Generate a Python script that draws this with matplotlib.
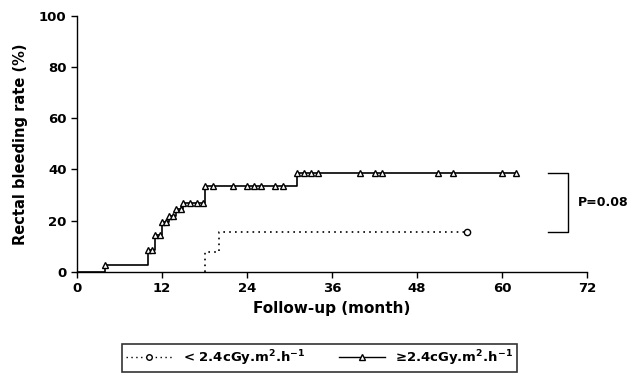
import matplotlib
matplotlib.use("Agg")
import matplotlib.pyplot as plt
import numpy as np

# High dose-rate group (>= 2.4 cGy.m2.h-1)
high_step_t = [0, 4, 10, 11, 12, 13, 14, 15, 18, 31]
high_step_v = [0, 2.8, 8.4, 14.3, 19.4, 22.0, 24.6, 27.0, 33.6, 38.6]
high_end = 62
high_marks = [4, 10, 10.6, 11, 11.7, 12, 12.6, 13, 13.6, 14, 14.6, 15, 16, 16.9, 17.8,
              18, 19.2, 22, 24, 25, 26, 28, 29, 31, 32, 33, 34, 40, 42, 43, 51, 53, 60, 62]

# Low dose-rate group (< 2.4 cGy.m2.h-1)
low_step_t = [18, 18, 20]
low_step_v = [0, 7.7, 15.4]
low_end = 55
low_marks = [55]

x_ticks = [0, 12, 24, 36, 48, 60, 72]
y_ticks = [0, 20, 40, 60, 80, 100]
p_text = "P=0.08"
label_low = r"< 2.4cGy.m$^{2}$.h$^{-1}$"
label_high = r"≥2.4cGy.m$^{2}$.h$^{-1}$"


def step_value(ts, vs, t):
    v = vs[0]
    for ti, vi in zip(ts, vs):
        if t >= ti:
            v = vi
    return v


plt.rcParams['font.family'] = ['DejaVu Sans']
plt.rcParams['font.weight'] = 'bold'

fig = plt.figure(figsize=(6.32, 3.76), dpi=100)
ax = fig.add_axes([0.122, 0.277, 0.807, 0.681])

# high group
hx = list(high_step_t) + [high_end]
hy = list(high_step_v) + [high_step_v[-1]]
ax.step(hx, hy, where='post', color='black', lw=1.2, zorder=3)
ax.plot(high_marks, [step_value(high_step_t, high_step_v, t) for t in high_marks],
        linestyle='none', marker='^', markersize=4.8, markerfacecolor='white',
        markeredgecolor='black', markeredgewidth=1.0, zorder=4)

# low group
lx = list(low_step_t) + [low_end]
ly = list(low_step_v) + [low_step_v[-1]]
ax.step(lx, ly, where='post', color='black', lw=1.2, linestyle=(0, (1, 2.5)), zorder=3)
ax.plot(low_marks, [step_value(low_step_t, low_step_v, t) for t in low_marks],
        linestyle='none', marker='o', markersize=4.5, markerfacecolor='white',
        markeredgecolor='black', markeredgewidth=1.0, zorder=4)

# proxy artists for legend
l1, = ax.plot([], [], color='black', lw=1.0, linestyle=(0, (1, 2.5)), marker='o',
              markersize=4, markerfacecolor='white', markeredgecolor='black')
l2, = ax.plot([], [], color='black', lw=1.0, marker='^', markersize=4.8,
              markerfacecolor='white', markeredgecolor='black')

# bracket with p value
top = high_step_v[-1]
bot = low_step_v[-1]
ax.plot([66.5, 69.3, 69.3, 66.5], [top, top, bot, bot], color='black', lw=1.0,
        clip_on=False)
ax.text(70.7, (top + bot) / 2, p_text, fontsize=9, fontweight='bold',
        va='center', ha='left', clip_on=False)

ax.set_xlim(0, 72)
ax.set_ylim(0, 100)
ax.set_xticks(x_ticks)
ax.set_yticks(y_ticks)
ax.tick_params(axis='both', labelsize=9.5, width=1, length=4, direction='out')
for lab in ax.get_xticklabels() + ax.get_yticklabels():
    lab.set_fontweight('bold')
ax.spines['top'].set_visible(False)
ax.spines['right'].set_visible(False)
ax.spines['left'].set_linewidth(1)
ax.spines['bottom'].set_linewidth(1)

ax.set_xlabel("Follow-up (month)", fontsize=11, fontweight='bold', labelpad=4)
ax.set_ylabel("Rectal bleeding rate (%)", fontsize=10.5, fontweight='bold', labelpad=8)

leg = fig.legend([l1, l2], [label_low, label_high], ncol=2, loc='center',
                 bbox_to_anchor=(0.506, 0.048), frameon=True, fancybox=False,
                 edgecolor='black', handlelength=3.5, columnspacing=2.5,
                 borderpad=0.3, prop={'weight': 'bold', 'size': 9.5})
leg.get_frame().set_linewidth(1.2)

fig.savefig("out.png", dpi=100)
